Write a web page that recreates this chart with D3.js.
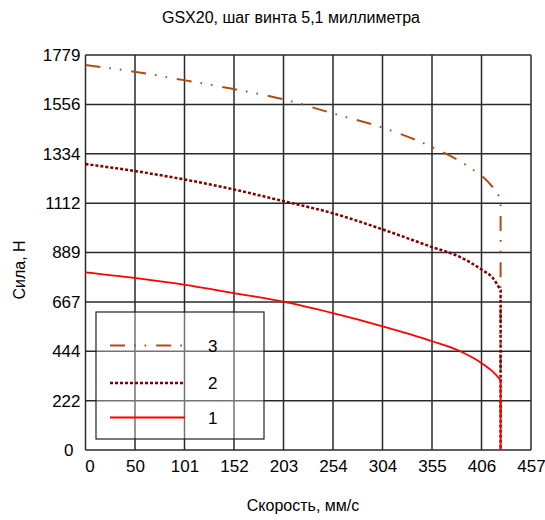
<!DOCTYPE html>
<html><head><meta charset="utf-8">
<script src="https://cdn.jsdelivr.net/npm/d3@7"></script>
<style>
body{margin:0;background:#fff;}
text{font-family:"Liberation Sans",Arial,sans-serif;fill:#000;}
</style></head>
<body>
<svg id="c" width="545" height="520"></svg>
<script>
const title = "GSX20, шаг винта 5,1 миллиметра";
const xTitle = "Скорость, мм/с";
const yTitle = "Сила, Н";
const xTickValues = [0, 50.8, 101.6, 152.4, 203.2, 254, 304.8, 355.6, 406.4, 457.2];
const xTickLabels = ["0","50","101","152","203","254","304","355","406","457"];
const yTickValues = [0, 222.4, 444.8, 667.1, 889.6, 1112, 1334.4, 1556.8, 1779.2];
const yTickLabels = ["0","222","444","667","889","1112","1334","1556","1779"];

const speed1 = [0,50,101,152,203,254,304,355,384,407,418,426];
const force1 = [800,775,745,707,668,616,558,491,446,390,353,315];
const speed2 = [0,50,101,152,203,254,304,355,384,407,418,426];
const force2 = [1288,1257,1219,1174,1121,1066,995,915,870,811,775,720];
const speed3 = [0,50,101,152,203,254,304,355,389,398,407,417,423,426];
const force3 = [1734,1704,1666,1626,1580,1516,1453,1366,1288,1261,1234,1189,1152,1134];
const stallSpeed = 426;
const seriesNames = ["3","2","1"];

const svg = d3.select("#c");
const L = 85.5, R = 531, T = 55, B = 450;
const x = d3.scaleLinear().domain([0, 457.2]).range([L, R]);
const y = d3.scaleLinear().domain([0, 1779.2]).range([B, T]);

// grid
const g = svg.append("g");
g.selectAll("line.v").data(xTickValues).enter().append("line")
  .attr("x1", d => x(d)).attr("x2", d => x(d)).attr("y1", T).attr("y2", B)
  .attr("stroke", "#2a2a2a").attr("stroke-width", 1.5);
g.selectAll("line.h").data(yTickValues).enter().append("line")
  .attr("y1", d => y(d)).attr("y2", d => y(d)).attr("x1", L).attr("x2", R)
  .attr("stroke", "#2a2a2a").attr("stroke-width", 1.5);

// axes labels
const xAxis = d3.axisBottom(x).tickValues(xTickValues).tickSize(0).tickPadding(10)
  .tickFormat((d,i) => xTickLabels[i]);
const xa = svg.append("g").attr("transform", `translate(0,${B})`).call(xAxis);
xa.select(".domain").remove();
xa.selectAll("text").attr("font-size", 17).attr("font-family", "Liberation Sans, Arial, sans-serif")
  .attr("dx", (d,i) => i === 0 ? 4 : 0);
const yAxis = d3.axisLeft(y).tickValues(yTickValues).tickSize(0).tickPadding(5)
  .tickFormat((d,i) => yTickLabels[i]);
const ya = svg.append("g").attr("transform", `translate(${L},0)`).call(yAxis);
ya.select(".domain").remove();
ya.selectAll("text").attr("font-size", 17).attr("font-family", "Liberation Sans, Arial, sans-serif")
  .attr("dx", (d,i) => i === 0 ? -7 : 0);

// curves
const lineGen = d3.line().x(d => x(d[0])).y(d => y(d[1])).curve(d3.curveMonotoneX);
function pathFor(sp, fo) {
  const pts = sp.map((s,i) => [s, fo[i]]);
  return lineGen(pts) + "L" + x(stallSpeed) + "," + y(0);
}
const styles = {
  "3": {color: "#b04d12", width: 2, dash: "15,9,1.6,9,1.6,10"},
  "2": {color: "#800000", width: 2.5, dash: "3,2"},
  "1": {color: "#ff0000", width: 1.8, dash: null}
};
const data = {"3": [speed3, force3], "2": [speed2, force2], "1": [speed1, force1]};
seriesNames.forEach(n => {
  const st = styles[n];
  svg.append("path").attr("d", pathFor(data[n][0], data[n][1]))
    .attr("fill", "none").attr("stroke", st.color).attr("stroke-width", st.width)
    .attr("stroke-dasharray", st.dash);
});

// legend
const lg = svg.append("g");
lg.append("rect").attr("x", 96).attr("y", 312).attr("width", 168).attr("height", 127)
  .attr("fill", "#fff").attr("fill-opacity", 0.35).attr("stroke", "#222").attr("stroke-width", 1.2);
const legY = [345.5, 383, 417.5];
seriesNames.forEach((n,i) => {
  const st = styles[n];
  lg.append("line").attr("x1", 110).attr("x2", 185).attr("y1", legY[i]).attr("y2", legY[i])
    .attr("stroke", st.color).attr("stroke-width", st.width).attr("stroke-dasharray", st.dash);
  lg.append("text").attr("x", 208).attr("y", legY[i] + 6).attr("font-size", 17).text(n);
});

// titles
svg.append("text").attr("x", 291).attr("y", 23).attr("text-anchor", "middle")
  .attr("font-size", 16).text(title);
svg.append("text").attr("x", 303).attr("y", 511).attr("text-anchor", "middle")
  .attr("font-size", 16).text(xTitle);
svg.append("text").attr("transform", "translate(25,270) rotate(-90)").attr("text-anchor", "middle")
  .attr("font-size", 16).text(yTitle);
</script>
</body></html>
